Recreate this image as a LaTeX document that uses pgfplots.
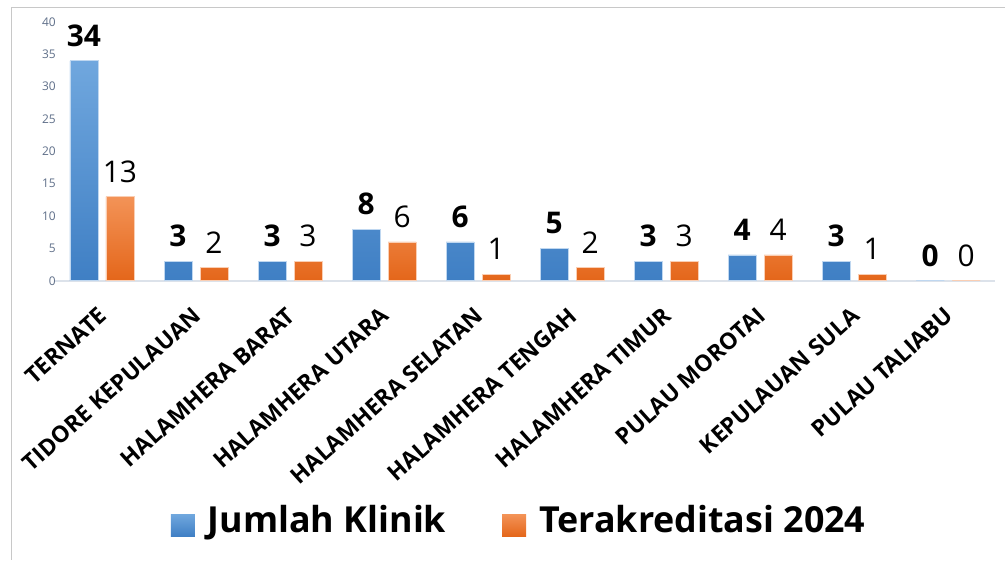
\documentclass[border=0pt]{standalone}
\usepackage{fontspec}
\setmainfont{Open Sans}
\usepackage{pgfplots}
\pgfplotsset{compat=1.18}

\definecolor{blueTop}{HTML}{70A7DE}
\definecolor{blueBot}{HTML}{3F7FC4}
\definecolor{orTop}{HTML}{F39357}
\definecolor{orBot}{HTML}{E4661A}
\definecolor{tickgray}{HTML}{5E6E88}
\definecolor{basegray}{HTML}{DCE2EA}
\definecolor{framegray}{HTML}{C8C8C8}

\begin{document}
\begin{tikzpicture}
% page size and the cropped frame of the original
\path (0bp,0bp) rectangle (1006bp,-560bp);
\draw[framegray, line width=1.5bp] (11.5bp,-560bp) -- (11.5bp,-7.5bp) -- (1006bp,-7.5bp);

\begin{axis}[
    at={(55bp,-281bp)}, anchor=south west,
    scale only axis,
    width=941bp, height=259bp,
    ybar=8bp, bar width=28bp,
    ymin=0, ymax=40, ytick={0,5,...,40},
    xmin=-0.5, xmax=9.5,
    xtick={0,...,9},
    xticklabels={TERNATE, TIDORE KEPULAUAN, HALAMHERA BARAT, HALAMHERA UTARA,
                 HALAMHERA SELATAN, HALAMHERA TENGAH, HALAMHERA TIMUR,
                 PULAU MOROTAI, KEPULAUAN SULA, PULAU TALIABU},
    axis x line*=bottom, axis y line*=left,
    x axis line style={basegray, line width=1.5bp},
    y axis line style={draw=none},
    major tick length=0pt,
    yticklabel style={font=\fontsize{12}{14}\selectfont, text=tickgray,
                      anchor=east, inner sep=0pt, xshift=1bp},
    xticklabel style={font=\bfseries\fontsize{23}{25}\selectfont, rotate=42,
                      anchor=north east, inner sep=0pt, xshift=-20bp, yshift=-15.5bp},
    /pgf/number format/assume math mode=true,
    nodes near coords,
    every node near coord/.append style={font=\fontsize{30}{32}\selectfont,
                                          text=black, anchor=south, inner sep=0pt, yshift=14bp},
    legend columns=2,
    legend style={draw=none, fill=none,
                  at={(axis description cs:0.4926,0)}, anchor=center, yshift=-240bp,
                  font=\bfseries\fontsize{36}{38}\selectfont,
                  nodes={inner sep=0pt},
                  /tikz/every odd column/.append style={column sep=13bp},
                  /tikz/every even column/.append style={column sep=56bp}},
    legend image code/.code={\draw[#1, draw=none] (0bp,-17bp) rectangle (24bp,5bp);},
]
\addplot[top color=blueTop, bottom color=blueBot, draw=blueTop!45!white, line width=0.8bp,
         every node near coord/.append style={font=\bfseries\fontsize{30}{32}\selectfont}]
    coordinates {(0,34) (1,3) (2,3) (3,8) (4,6) (5,5) (6,3) (7,4) (8,3) (9,0)};
\addlegendentry{Jumlah Klinik}
\addplot[top color=orTop, bottom color=orBot, draw=orTop!45!white, line width=0.8bp]
    coordinates {(0,13) (1,2) (2,3) (3,6) (4,1) (5,2) (6,3) (7,4) (8,1) (9,0)};
\addlegendentry{Terakreditasi 2024}
\end{axis}
\end{tikzpicture}
\end{document}
